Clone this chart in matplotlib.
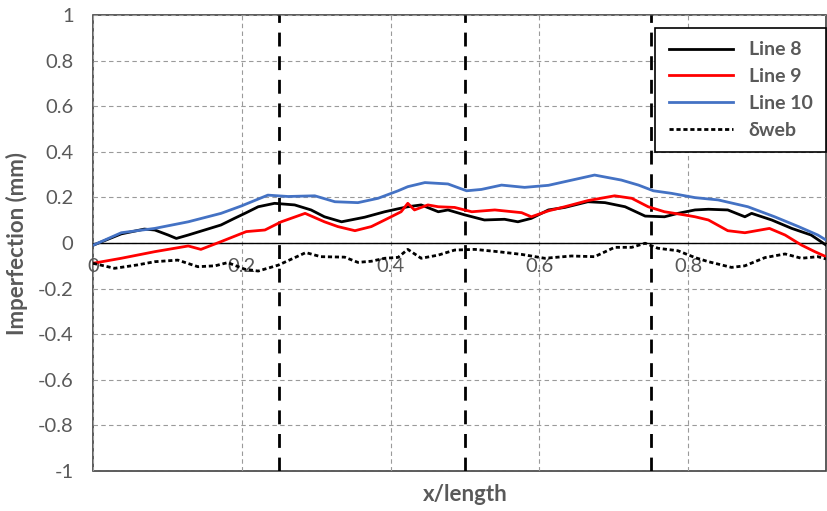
import matplotlib
matplotlib.use("Agg")
import matplotlib.pyplot as plt

plt.rcParams['font.family'] = ['Lato', 'DejaVu Sans']

# values
line8_x = [0, 0.038, 0.069, 0.083, 0.101, 0.112, 0.128, 0.150, 0.172, 0.19, 0.206, 0.222, 0.244, 0.271,
           0.293, 0.311, 0.334, 0.365, 0.392, 0.41, 0.423, 0.441, 0.464, 0.477, 0.5, 0.526, 0.553, 0.571,
           0.589, 0.612, 0.634, 0.665, 0.688, 0.715, 0.742, 0.768, 0.786, 0.809, 0.827, 0.853, 0.876,
           0.885, 0.912, 0.939, 0.965, 0.985]
line8_y = [-0.01, 0.04, 0.061, 0.057, 0.035, 0.02, 0.035, 0.057, 0.079, 0.108, 0.133, 0.159, 0.174, 0.167,
           0.145, 0.115, 0.093, 0.113, 0.137, 0.15, 0.159, 0.167, 0.137, 0.145, 0.123, 0.101, 0.104, 0.093,
           0.108, 0.145, 0.156, 0.181, 0.177, 0.159, 0.118, 0.115, 0.13, 0.145, 0.148, 0.145, 0.115,
           0.13, 0.101, 0.064, 0.035, -0.009]

line9_x = [0, 0.038, 0.083, 0.128, 0.145, 0.172, 0.206, 0.231, 0.253, 0.285, 0.311, 0.329, 0.352, 0.374,
           0.392, 0.414, 0.423, 0.432, 0.45, 0.464, 0.486, 0.509, 0.54, 0.576, 0.589, 0.612, 0.634, 0.665,
           0.701, 0.724, 0.746, 0.768, 0.795, 0.809, 0.827, 0.853, 0.876, 0.909, 0.93, 0.952, 0.97, 0.985]
line9_y = [-0.089, -0.067, -0.038, -0.013, -0.028, 0.006, 0.05, 0.057, 0.093, 0.13, 0.093, 0.072, 0.054, 0.072,
           0.101, 0.137, 0.174, 0.145, 0.167, 0.159, 0.156, 0.137, 0.145, 0.133, 0.115, 0.141, 0.159, 0.186,
           0.207, 0.196, 0.159, 0.137, 0.123, 0.115, 0.101, 0.054, 0.045, 0.064, 0.035, -0.009, -0.038, -0.06]

line10_x = [0, 0.038, 0.083, 0.128, 0.172, 0.199, 0.235, 0.262, 0.298, 0.325, 0.356, 0.383, 0.41, 0.423,
            0.446, 0.477, 0.502, 0.522, 0.549, 0.58, 0.612, 0.634, 0.674, 0.71, 0.733, 0.753, 0.777, 0.809,
            0.84, 0.88, 0.916, 0.948, 0.974, 0.985]
line10_y = [-0.01, 0.045, 0.064, 0.093, 0.13, 0.162, 0.21, 0.204, 0.207, 0.181, 0.177, 0.196, 0.229, 0.247,
            0.265, 0.259, 0.229, 0.235, 0.254, 0.244, 0.253, 0.269, 0.298, 0.276, 0.254, 0.229, 0.218, 0.199,
            0.189, 0.159, 0.115, 0.072, 0.035, 0.013]

web_x = [0, 0.029, 0.06, 0.083, 0.114, 0.141, 0.164, 0.181, 0.204, 0.222, 0.249, 0.286, 0.306, 0.338,
         0.356, 0.374, 0.392, 0.41, 0.423, 0.441, 0.464, 0.486, 0.513, 0.544, 0.576, 0.607, 0.643, 0.674,
         0.701, 0.724, 0.742, 0.759, 0.786, 0.809, 0.827, 0.858, 0.876, 0.903, 0.93, 0.952, 0.974, 0.985]
web_y = [-0.089, -0.111, -0.096, -0.082, -0.075, -0.104, -0.10, -0.086, -0.115, -0.123, -0.097, -0.042, -0.06,
         -0.062, -0.085, -0.08, -0.067, -0.063, -0.028, -0.067, -0.053, -0.031, -0.028, -0.038, -0.05, -0.067,
         -0.057, -0.06, -0.019, -0.019, -0.001, -0.023, -0.034, -0.064, -0.082, -0.107, -0.10, -0.064, -0.048,
         -0.067, -0.06, -0.07]

section_x = [0.25, 0.5, 0.75]
x_ticks = [0, 0.2, 0.4, 0.6, 0.8]
y_ticks = [-1, -0.8, -0.6, -0.4, -0.2, 0, 0.2, 0.4, 0.6, 0.8, 1]

grey = '#595959'

fig = plt.figure(figsize=(8.28, 5.11), dpi=100)
ax = fig.add_axes([93 / 828, 40 / 511, 733 / 828, 456 / 511])

ax.plot(line8_x, line8_y, color='black', lw=2, label='Line 8', zorder=4)
ax.plot(line9_x, line9_y, color='#FF0000', lw=2, label='Line 9', zorder=4)
ax.plot(line10_x, line10_y, color='#4472C4', lw=2, label='Line 10', zorder=4)
ax.plot(web_x, web_y, color='black', lw=2, linestyle=(0, (1.5, 1)), label='δweb', zorder=4)

for xv in section_x:
    ax.axvline(xv, color='black', lw=2, linestyle=(0, (5, 3.5)), zorder=3)

ax.set_xlim(0, 0.985)
ax.set_ylim(-1, 1)
ax.set_xticks(x_ticks)
ax.set_xticklabels(['0', '0.2', '0.4', '0.6', '0.8'])
ax.set_yticks(y_ticks)
ax.set_yticklabels(['-1', '-0.8', '-0.6', '-0.4', '-0.2', '0', '0.2', '0.4', '0.6', '0.8', '1'])
ax.grid(True, color='#9a9a9a', lw=0.8, linestyle=(0, (4, 3)))
ax.set_axisbelow(True)

# excel style: horizontal axis crosses at zero
ax.spines['bottom'].set_position(('data', 0))
ax.spines['bottom'].set_color('black')
ax.spines['bottom'].set_linewidth(1)
for s in ['left', 'top', 'right']:
    ax.spines[s].set_visible(False)
ax.patch.set_edgecolor('#404040')
ax.patch.set_linewidth(1.2)

ax.tick_params(axis='x', length=0, pad=11, labelsize=14.5, labelcolor=grey)
ax.tick_params(axis='y', length=0, pad=14, labelsize=14.5, labelcolor=grey)

ax.set_ylabel('Imperfection (mm)', fontsize=16, fontweight='bold', color=grey)
ax.yaxis.set_label_coords(-0.088, 0.5)
ax.text(0.5075, -0.028, 'x/length', transform=ax.transAxes, ha='center', va='top',
        fontsize=16, fontweight='bold', color=grey)

leg = ax.legend(loc='upper right', bbox_to_anchor=(1.0, 0.972), borderaxespad=0,
                fancybox=False, edgecolor='black', framealpha=1, handlelength=3.3,
                prop={'size': 14, 'weight': 'bold'}, labelspacing=0.5, borderpad=0.7)
leg.get_frame().set_linewidth(1.2)
for t in leg.get_texts():
    t.set_color(grey)

fig.savefig('out.png', dpi=100)
